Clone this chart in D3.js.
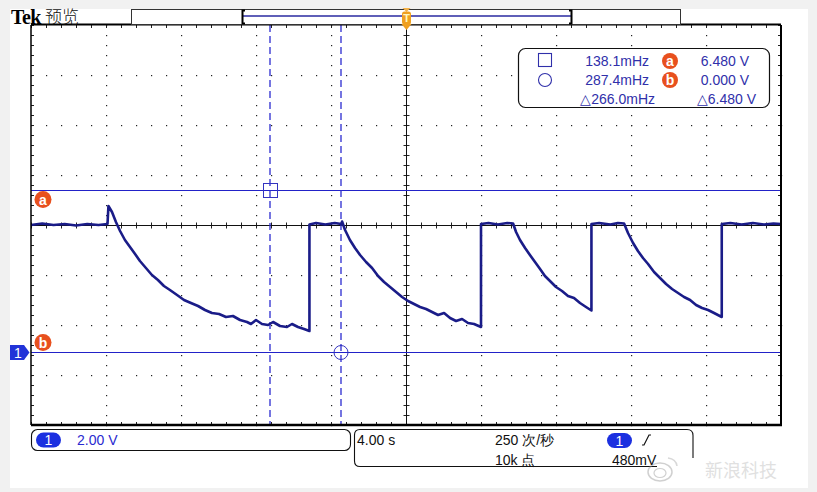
<!DOCTYPE html>
<html><head><meta charset="utf-8">
<script src="https://cdn.jsdelivr.net/npm/d3@7"></script>
<style>
html,body{margin:0;padding:0;background:#f1f1f1;}
svg{display:block;}
</style></head><body>
<svg id="c" width="817" height="492"></svg>
<script>
// ---- data ----
const timeS = [-20,-19.4,-18.8,-18.2,-17.6,-17.0,-16.4,-15.92,-15.87,
 -15.68,-15.47,-15.25,-14.99,-14.72,-14.45,-14.19,-13.87,-13.55,-13.23,-12.91,-12.59,-12.21,-11.84,-11.47,-11.09,-10.72,-10.35,-9.97,-9.60,-9.23,-8.85,-8.48,-8.27,-8.00,-7.68,-7.36,-7.09,-6.72,-6.35,-6.08,-5.76,-5.44,-5.15,
 -5.15,-4.8,-4.3,-3.8,-3.45,-3.41,
 -3.25,-2.99,-2.72,-2.45,-2.13,-1.81,-1.49,-1.17,-0.85,-0.53,-0.21,0.11,0.43,0.75,1.07,1.39,1.71,2.03,2.35,2.67,2.99,3.31,3.63,4.00,
 4.00,4.4,4.9,5.4,5.71,
 5.87,6.08,6.35,6.61,6.88,7.15,7.41,7.68,8.00,8.32,8.64,8.96,9.28,9.60,9.89,
 9.89,10.3,10.9,11.3,11.63,
 11.84,12.11,12.37,12.64,12.91,13.23,13.55,13.87,14.19,14.51,14.83,15.15,15.47,15.79,16.11,16.43,16.84,
 16.84,17.3,17.9,18.5,19.1,19.6,20];
const volts = [5.08,5.14,5.08,5.12,5.06,5.12,5.08,5.12,5.84,
 5.60,5.20,4.84,4.48,4.20,3.92,3.64,3.36,3.08,2.88,2.64,2.48,2.28,2.08,1.96,1.84,1.68,1.56,1.52,1.40,1.44,1.28,1.20,1.12,1.28,1.12,1.08,1.20,1.04,1.00,1.12,1.00,0.92,0.84,
 5.10,5.16,5.10,5.16,5.12,5.22,
 4.88,4.48,4.16,3.88,3.60,3.36,3.04,2.80,2.60,2.40,2.20,2.04,1.92,1.80,1.72,1.60,1.48,1.56,1.36,1.24,1.32,1.16,1.12,1.00,
 5.12,5.16,5.10,5.16,5.14,
 4.80,4.48,4.16,3.88,3.60,3.32,3.04,2.84,2.60,2.44,2.24,2.16,1.96,1.80,1.66,
 5.12,5.16,5.10,5.16,5.14,
 4.76,4.36,4.04,3.76,3.52,3.20,2.96,2.72,2.52,2.36,2.20,2.08,1.88,1.76,1.68,1.56,1.40,
 5.12,5.16,5.10,5.16,5.10,5.14,5.12];
const timeDomain = [-20, 20];          // 4.00 s/div, 10 div
const voltDomain = [-2.92, 13.08];     // 2.00 V/div, 8 div, ground offset
const cursorTimes = [-7.241, -3.479];
const cursorVolts = [6.48, 0.0];
const cursorLabels = ["a", "b"];
const readFreq = ["138.1mHz", "287.4mHz", "\u25B3266.0mHz"];
const readVolt = ["6.480 V", "0.000 V", "\u25B36.480 V"];
const vScaleLabel = "2.00 V";
const hScaleLabel = "4.00 s";
const rateLabel = "250 次/秒";
const pointsLabel = "10k 点";
const trigLevelLabel = "480mV";

// ---- drawing ----
const svg = d3.select("#c");
const L = 31, R = 781, T = 25, B = 425;
const x = d3.scaleLinear().domain(timeDomain).range([L, R]);
const y = d3.scaleLinear().domain(voltDomain).range([B, T]);
const blue = "#2222c8", navy = "#1a1c88", orange = "#e8501e", txtBlue = "#3030aa";
const sans = "'Liberation Sans', Arial, sans-serif";
const cjk = "'Noto Sans CJK SC', sans-serif";

// panel
svg.append("rect").attr("x",0).attr("y",0).attr("width",817).attr("height",492).attr("fill","#f1f1f1");
svg.append("rect").attr("x",10).attr("y",9).attr("width",798).attr("height",479).attr("fill","#ffffff");

// grid dots
const g = svg.append("g");
const xMajor = d3.range(timeDomain[0], timeDomain[1] + 0.001, 4);
const yMajor = d3.range(0, 9).map(k => voltDomain[1] - 2 * k);
const xMinor = d3.range(timeDomain[0], timeDomain[1] + 0.001, 0.8);
const yMinor = d3.range(0, 41).map(k => voltDomain[1] - 0.4 * k);
const dots = [];
xMajor.slice(1, -1).forEach(t => { if (Math.abs(t) > 0.01) yMinor.forEach(v => dots.push([x(t), y(v)])); });
yMajor.slice(1, -1).forEach(v => { if (Math.abs(y(v) - 225) > 1) xMinor.forEach(t => dots.push([x(t), y(v)])); });
g.selectAll("rect.dot").data(dots).join("rect").attr("class","dot")
  .attr("x", d => Math.round(d[0])).attr("y", d => Math.round(d[1]))
  .attr("width", 1.2).attr("height", 1.2).attr("fill", "#222");

// border ticks
const tk = svg.append("g").attr("stroke","#222").attr("stroke-width",1);
const cy0 = Math.round(y(5.08)) + 0.5;
xMinor.forEach(t => {
  const xx = Math.round(x(t)) + 0.5;
  tk.append("line").attr("x1",xx).attr("x2",xx).attr("y1",T).attr("y2",T+3);
  tk.append("line").attr("x1",xx).attr("x2",xx).attr("y1",B-3).attr("y2",B);
  tk.append("line").attr("x1",xx).attr("x2",xx).attr("y1",cy0-3).attr("y2",cy0+3);
});
yMinor.forEach(v => {
  const yy = Math.round(y(v)) + 0.5;
  tk.append("line").attr("x1",L).attr("x2",L+3).attr("y1",yy).attr("y2",yy);
  tk.append("line").attr("x1",R-3).attr("x2",R).attr("y1",yy).attr("y2",yy);
  tk.append("line").attr("x1",x(0)-2.5).attr("x2",x(0)+3.5).attr("y1",yy).attr("y2",yy);
});
// center crosshair
svg.append("line").attr("x1",L).attr("x2",R).attr("y1",cy0).attr("y2",cy0).attr("stroke","#111").attr("stroke-width",1);
svg.append("line").attr("x1",x(0)+0.5).attr("x2",x(0)+0.5).attr("y1",T).attr("y2",B).attr("stroke","#111").attr("stroke-width",1);

// cursors
svg.selectAll("line.hc").data(cursorVolts).join("line").attr("class","hc")
  .attr("x1",L).attr("x2",R).attr("y1",d=>Math.round(y(d))+0.5).attr("y2",d=>Math.round(y(d))+0.5)
  .attr("stroke",blue).attr("stroke-width",1);
svg.selectAll("line.vc").data(cursorTimes).join("line").attr("class","vc")
  .attr("x1",d=>Math.round(x(d))).attr("x2",d=>Math.round(x(d))).attr("y1",T).attr("y2",B)
  .attr("stroke","#2c2cd0").attr("stroke-width",1.3).attr("stroke-dasharray","7,4");
svg.append("rect").attr("x",Math.round(x(cursorTimes[0]))-6.5).attr("y",Math.round(y(cursorVolts[0]))-6.5).attr("width",14).attr("height",14)
  .attr("fill","none").attr("stroke","#3434c0").attr("stroke-width",1);
svg.append("circle").attr("cx",Math.round(x(cursorTimes[1]))).attr("cy",Math.round(y(cursorVolts[1]))+0.5).attr("r",7)
  .attr("fill","none").attr("stroke","#3434c0").attr("stroke-width",1);

// trace
const pts = timeS.map((t,i)=>[t, volts[i]]);
svg.append("path").datum(pts)
  .attr("d", d3.line().x(d=>x(d[0])).y(d=>y(d[1])))
  .attr("fill","none").attr("stroke",navy).attr("stroke-width",2.6).attr("stroke-linejoin","round");

// border
svg.append("line").attr("x1",L).attr("x2",L).attr("y1",T).attr("y2",B).attr("stroke","#000").attr("stroke-width",1.5);
svg.append("line").attr("x1",R).attr("x2",R).attr("y1",T).attr("y2",B+1).attr("stroke","#000").attr("stroke-width",2);
svg.append("line").attr("x1",L).attr("x2",R+1).attr("y1",B).attr("y2",B).attr("stroke","#000").attr("stroke-width",2.5);
svg.append("line").attr("x1",L).attr("x2",R).attr("y1",T-0.5).attr("y2",T-0.5).attr("stroke","#000").attr("stroke-width",2);

// cursor labels a/b
cursorVolts.forEach((v,i)=>{
  const cy = i===0 ? y(v)+9.5 : y(v)-9.5;
  svg.append("circle").attr("cx",43).attr("cy",cy).attr("r",8.5).attr("fill",orange);
  svg.append("text").attr("x",43).attr("y",cy+5).attr("text-anchor","middle").attr("fill","#fff")
    .attr("font-family",sans).attr("font-weight","bold").attr("font-size",14).text(cursorLabels[i]);
});
// channel ground marker
const gy = Math.round(y(0)) + 0.5;
svg.append("path").attr("d",`M10,${gy-7.5} L24,${gy-7.5} L29.5,${gy} L24,${gy+7.5} L10,${gy+7.5} Z`).attr("fill","#2233d8");
svg.append("text").attr("x",18).attr("y",gy+5).attr("text-anchor","middle").attr("fill","#fff")
  .attr("font-family",sans).attr("font-size",14).text("1");

// header
svg.append("text").attr("x",11).attr("y",23.5).attr("font-family","'Liberation Serif', serif").attr("font-weight","bold")
  .attr("font-size",20).attr("letter-spacing",-0.6).attr("fill","#000").text("Tek");
svg.append("text").attr("x",45).attr("y",23).attr("font-family",cjk).attr("font-size",17).attr("font-weight",300).attr("fill","#111").text("预览");
// record bar
svg.append("rect").attr("x",131.5).attr("y",9.5).attr("width",549).attr("height",15).attr("fill","#fff").attr("stroke","#333").attr("stroke-width",1);
svg.append("line").attr("x1",243).attr("x2",571).attr("y1",16).attr("y2",16).attr("stroke","#2a2aa0").attr("stroke-width",1.5);
svg.append("path").attr("d","M245,10.5 L242.5,10.5 L242.5,23.5 L245,23.5").attr("fill","none").attr("stroke","#000").attr("stroke-width",2);
svg.append("path").attr("d","M569,10.5 L571.5,10.5 L571.5,23.5 L569,23.5").attr("fill","none").attr("stroke","#000").attr("stroke-width",2);
// trigger position marker
const tx = x(0) + 0.5;
svg.append("path").attr("d",`M${tx-4},8 L${tx+4},8 L${tx},12 Z`).attr("fill","#f3b24a");
svg.append("rect").attr("x",tx-4.5).attr("y",11.5).attr("width",9).attr("height",13).attr("rx",2.5).attr("fill","#f0a020");
svg.append("path").attr("d",`M${tx-5},24 L${tx+5},24 L${tx},30 Z`).attr("fill","#f0a020");
svg.append("text").attr("x",tx).attr("y",22).attr("text-anchor","middle").attr("fill","#fff6c0")
  .attr("font-family",sans).attr("font-weight","bold").attr("font-size",11).text("T");

// readout box
svg.append("rect").attr("x",518.5).attr("y",48.5).attr("width",251).attr("height",59).attr("rx",7)
  .attr("fill","#fff").attr("stroke","#111").attr("stroke-width",1.2);
svg.append("rect").attr("x",538.5).attr("y",53.5).attr("width",13).attr("height",13).attr("fill","none").attr("stroke",txtBlue).attr("stroke-width",1.1);
svg.append("circle").attr("cx",545).attr("cy",80).attr("r",6.5).attr("fill","none").attr("stroke",txtBlue).attr("stroke-width",1.1);
const rowY = [66, 85, 104];
readFreq.forEach((s,i)=>{
  svg.append("text").attr("x", i===2 ? 655 : 649).attr("y",rowY[i]).attr("text-anchor","end")
    .attr("font-family",sans).attr("font-size",14).attr("fill",txtBlue).text(s);
});
readVolt.forEach((s,i)=>{
  svg.append("text").attr("x", i===2 ? 756 : 749).attr("y",rowY[i]).attr("text-anchor","end")
    .attr("font-family",sans).attr("font-size",14).attr("fill",txtBlue).text(s);
});
cursorLabels.forEach((c,i)=>{
  svg.append("circle").attr("cx",670).attr("cy",rowY[i]-5).attr("r",8).attr("fill",orange);
  svg.append("text").attr("x",670).attr("y",rowY[i]).attr("text-anchor","middle").attr("fill","#fff")
    .attr("font-family",sans).attr("font-weight","bold").attr("font-size",14).text(c);
});

// bottom left box
svg.append("rect").attr("x",31.5).attr("y",429.5).attr("width",319).attr("height",21).attr("rx",6)
  .attr("fill","#fff").attr("stroke","#111").attr("stroke-width",1.1);
function pill(cx, cy){
  svg.append("rect").attr("x",cx-12.5).attr("y",cy-7.5).attr("width",25).attr("height",15).attr("rx",7.5).attr("fill","#1c30e0");
  svg.append("text").attr("x",cx).attr("y",cy+5).attr("text-anchor","middle").attr("fill","#fff")
    .attr("font-family",sans).attr("font-size",14).text("1");
}
pill(48.5, 440);
svg.append("text").attr("x",77).attr("y",445).attr("font-family",sans).attr("font-size",14).attr("fill","#2a2ad0").text(vScaleLabel);

// bottom right box (partly hidden bottom-right corner)
svg.append("path").attr("d","M657,466.5 L360,466.5 Q354.5,466.5 354.5,461 L354.5,435 Q354.5,429.5 360,429.5 L687,429.5 Q693,429.5 693,435.5 L693,458")
  .attr("fill","#fff").attr("stroke","#111").attr("stroke-width",1.1);
svg.append("text").attr("x",357).attr("y",445).attr("font-family",sans).attr("font-size",14).attr("fill","#111").text(hScaleLabel);
svg.append("text").attr("x",495).attr("y",445).attr("font-family",sans).attr("font-size",14).attr("fill","#111").text(rateLabel);
svg.append("text").attr("x",495).attr("y",465).attr("font-family",sans).attr("font-size",14).attr("fill","#111").text(pointsLabel);
pill(619.5, 440.5);
svg.append("path").attr("d","M642,445 L644,445 L649,435 L651,435").attr("fill","none").attr("stroke","#111").attr("stroke-width",1.2);
svg.append("text").attr("x",612).attr("y",465).attr("font-family",sans).attr("font-size",14).attr("fill","#111").text(trigLevelLabel);

// watermark (faint)
const wm = svg.append("g").attr("opacity",0.45);
wm.append("ellipse").attr("cx",660).attr("cy",472).attr("rx",12).attr("ry",9).attr("fill","none").attr("stroke","#999").attr("stroke-width",1.5);
wm.append("ellipse").attr("cx",660).attr("cy",473).attr("rx",6).attr("ry",4.5).attr("fill","none").attr("stroke","#999").attr("stroke-width",1.2);
wm.append("path").attr("d","M668,458 Q676,459 677,466").attr("fill","none").attr("stroke","#aaa").attr("stroke-width",1.5);
wm.append("text").attr("x",705).attr("y",477).attr("font-family",cjk).attr("font-size",18).attr("fill","#bbb").text("新浪科技");
</script>
</body></html>
